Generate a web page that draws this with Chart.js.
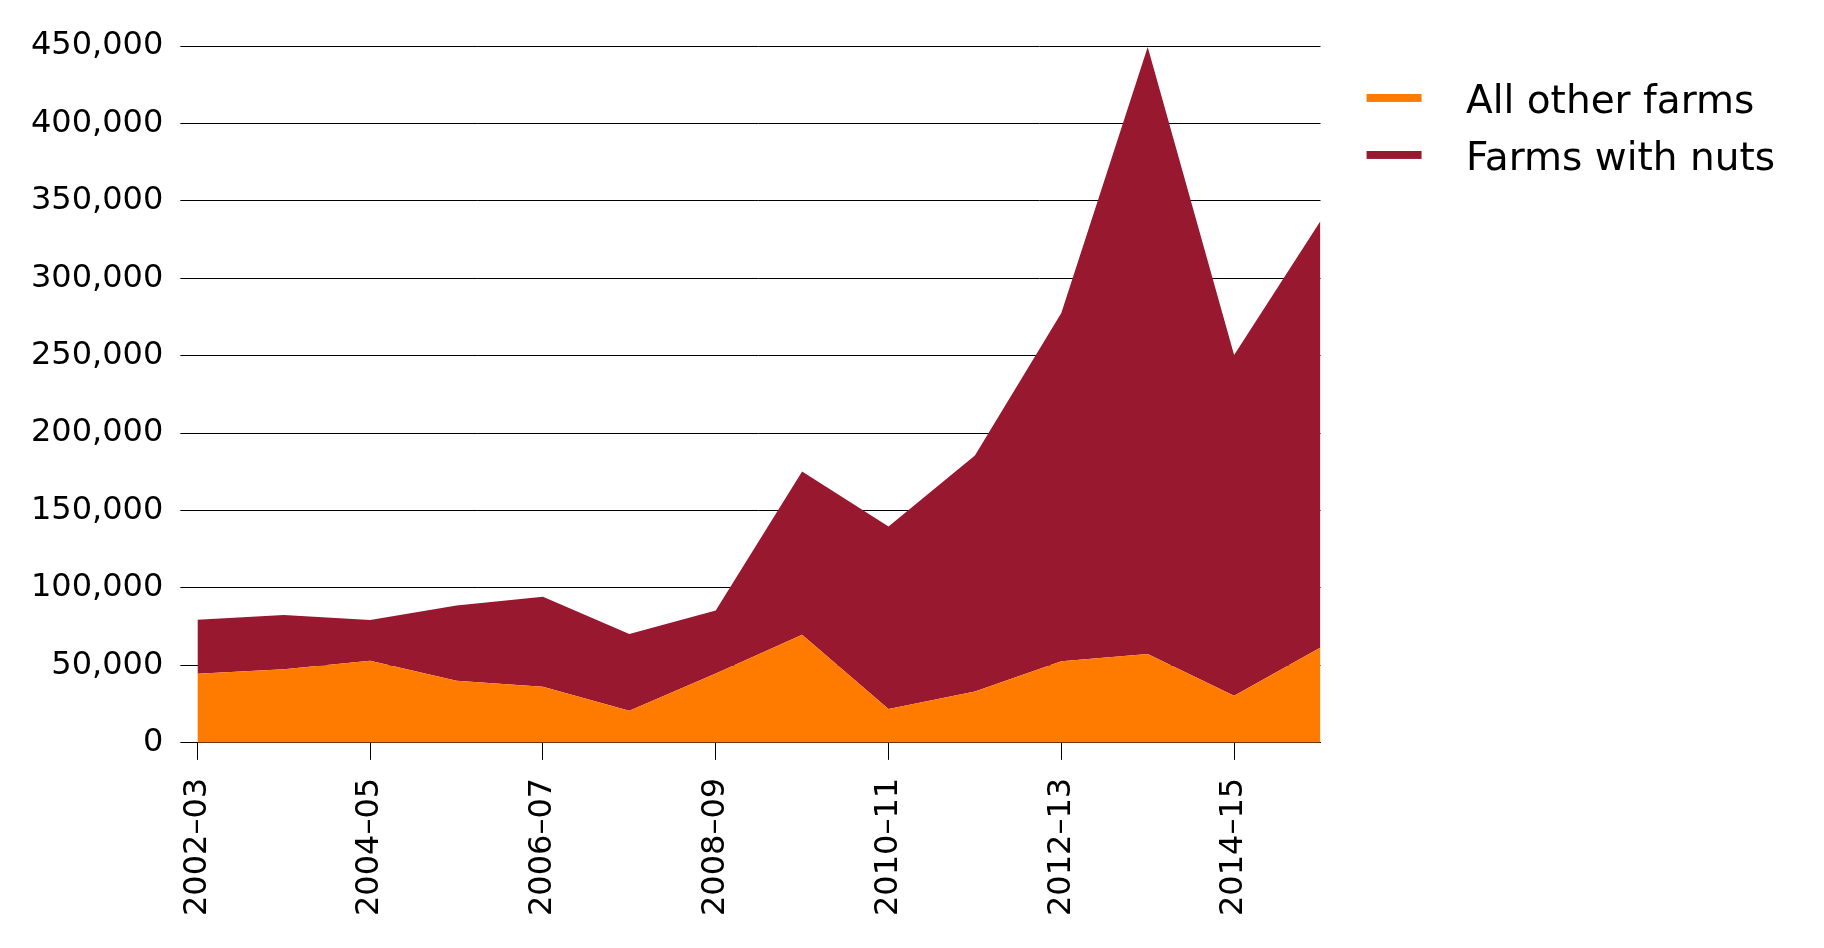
<!DOCTYPE html>
<html lang="en">
<head>
    <meta charset="UTF-8">
    <title>Farms with nuts</title>
    <script src="https://cdn.jsdelivr.net/npm/chart.js"></script>
    <style>
        html, body { margin: 0; padding: 0; background: #fff; overflow: hidden; }
        canvas { display: block; }
    </style>
</head>
<body>
<canvas id="myChart" width="1824" height="948"></canvas>

<script>
    //data
    const years = ['2002\u201303', '2003\u201304', '2004\u201305', '2005\u201306', '2006\u201307', '2007\u201308', '2008\u201309',
                   '2009\u201310', '2010\u201311', '2011\u201312', '2012\u201313', '2013\u201314', '2014\u201315', '2015\u201316'];
    const otherFarms = [44600, 47600, 53000, 40100, 36300, 20800, 44700, 69800, 21900, 33200, 52700, 57300, 30400, 61500];
    const nutFarms = [34900, 34900, 26300, 48600, 58100, 49500, 40700, 105400, 117800, 152400, 224900, 392000, 220100, 275500];
    const yTicks = [0, 50000, 100000, 150000, 200000, 250000, 300000, 350000, 400000, 450000];

    const orange = '#ff7b00';
    const maroon = '#981830';

    // legend swatch: short thick bar, some room on the left, sitting a bit above the text middle
    function swatch(color) {
        const c = document.createElement('canvas');
        c.width = 108;
        c.height = 18;
        const g = c.getContext('2d');
        g.fillStyle = color;
        g.fillRect(28, 0, 55, 8);
        return c;
    }

    Chart.defaults.font.family = "'DejaVu Sans', Verdana, sans-serif";
    Chart.defaults.color = '#000';

    //config
    const config = {
        type: 'line',
        data: {
            labels: years,
            datasets: [{
                label: 'All other farms',
                data: otherFarms,
                backgroundColor: orange,
                borderWidth: 0,
                pointRadius: 0,
                fill: 'origin',
                pointStyle: swatch(orange)
            }, {
                label: 'Farms with nuts',
                data: nutFarms,
                backgroundColor: maroon,
                borderWidth: 0,
                pointRadius: 0,
                fill: '-1',
                pointStyle: swatch(maroon)
            }]
        },
        options: {
            responsive: false,
            animation: false,
            devicePixelRatio: 1,
            layout: { padding: { left: 14, top: 46, right: 39, bottom: 14 } },
            plugins: {
                tooltip: { enabled: false },
                legend: {
                    position: 'right',
                    align: 'start',
                    maxWidth: 700,
                    title: { display: true, text: '', padding: { top: 5, bottom: 0 } },
                    labels: {
                        usePointStyle: true,
                        pointStyleWidth: 108,
                        boxHeight: 8,
                        padding: 18,
                        font: { size: 39 }
                    }
                }
            },
            scales: {
                x: {
                    offset: false,
                    z: 1,
                    border: { display: true, color: '#000', width: 1 },
                    grid: {
                        drawOnChartArea: false,
                        tickLength: 17,
                        lineWidth: 1,
                        color: (ctx) => ctx.index % 2 === 0 ? '#000' : 'rgba(0,0,0,0)'
                    },
                    ticks: {
                        autoSkip: false,
                        maxRotation: 90,
                        minRotation: 90,
                        padding: 18,
                        font: { size: 32 },
                        callback: function (value, index) {
                            return index % 2 === 0 ? this.getLabelForValue(value) : '';
                        }
                    }
                },
                y: {
                    stacked: true,
                    min: yTicks[0],
                    max: yTicks[yTicks.length - 1],
                    afterBuildTicks: (axis) => { axis.ticks = yTicks.map(v => ({ value: v })); },
                    border: { display: false },
                    grid: { color: '#000', lineWidth: 1, tickLength: 17 },
                    ticks: {
                        padding: 17,
                        font: { size: 32 },
                        callback: (v) => v.toLocaleString('en-US')
                    }
                }
            }
        }
    };

    //render (make sure the font is there before the legend measures its text)
    document.fonts.load("39px 'DejaVu Sans'").then(function () {
        new Chart(document.getElementById('myChart'), config);
    });
</script>
</body>
</html>
